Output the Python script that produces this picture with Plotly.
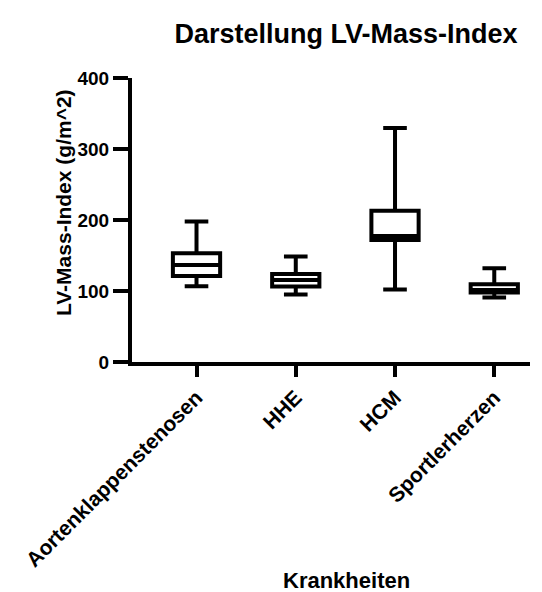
import plotly.graph_objects as go

categories = ["Aortenklappenstenosen", "HHE", "HCM", "Sportlerherzen"]
lower_whisker = [106.7, 95.0, 102.0, 91.0]
q1_values = [121.0, 106.5, 172.0, 98.0]
median_values = [136.5, 115.5, 177.5, 101.5]
q3_values = [153.0, 124.0, 213.0, 109.5]
upper_whisker = [198.0, 148.5, 329.5, 132.0]
y_ticks = [0, 100, 200, 300, 400]

FONT = "Arial, Liberation Sans, sans-serif"

L, R, T, B = 124, 20, 70, 238
PW, PH = 542 - L - R, 592 - T - B

fig = go.Figure()
fig.add_trace(go.Box(
    x=categories,
    q1=q1_values,
    median=median_values,
    q3=q3_values,
    lowerfence=lower_whisker,
    upperfence=upper_whisker,
    line=dict(color="black", width=4),
    fillcolor="white",
    whiskerwidth=0.5,
    boxpoints=False,
    showlegend=False,
    hoverinfo="skip",
))

fig.update_layout(
    width=542, height=592,
    margin=dict(l=L, r=R, t=T, b=B),
    paper_bgcolor="white", plot_bgcolor="white",
    boxgap=0.32,
    font=dict(family=FONT, color="black"),
    title=dict(text="<b>Darstellung LV-Mass-Index</b>", x=338/542, xanchor="center",
               y=1 - 26/592, yanchor="middle", font=dict(size=27, family=FONT, color="black")),
    xaxis=dict(
        type="category", range=[-0.65, 3.36],
        showline=True, linecolor="black", linewidth=4,
        ticks="outside", ticklen=11, tickwidth=4, tickcolor="black",
        tickangle=-45, showgrid=False, zeroline=False,
        tickfont=dict(size=21, family=FONT, color="black", weight="bold"),
    ),
    yaxis=dict(
        range=[0, 400], tickvals=y_ticks,
        showline=True, linecolor="black", linewidth=4,
        ticks="outside", ticklen=15, tickwidth=4, tickcolor="black",
        showgrid=False, zeroline=False,
        tickfont=dict(size=19, family=FONT, color="black", weight="bold"),
    ),
    annotations=[
        dict(text="<b>LV-Mass-Index (g/m^2)</b>", xref="paper", yref="paper",
             x=(55 - L) / PW, y=(592 - B - 195) / PH, textangle=-90, showarrow=False,
             xanchor="center", yanchor="middle", font=dict(size=21, family=FONT, color="black")),
        dict(text="<b>Krankheiten</b>", xref="paper", yref="paper",
             x=(338 - L) / PW, y=(592 - B - 572) / PH, showarrow=False,
             xanchor="center", yanchor="middle", font=dict(size=22, family=FONT, color="black")),
    ],
)

fig.write_html("out.html")
